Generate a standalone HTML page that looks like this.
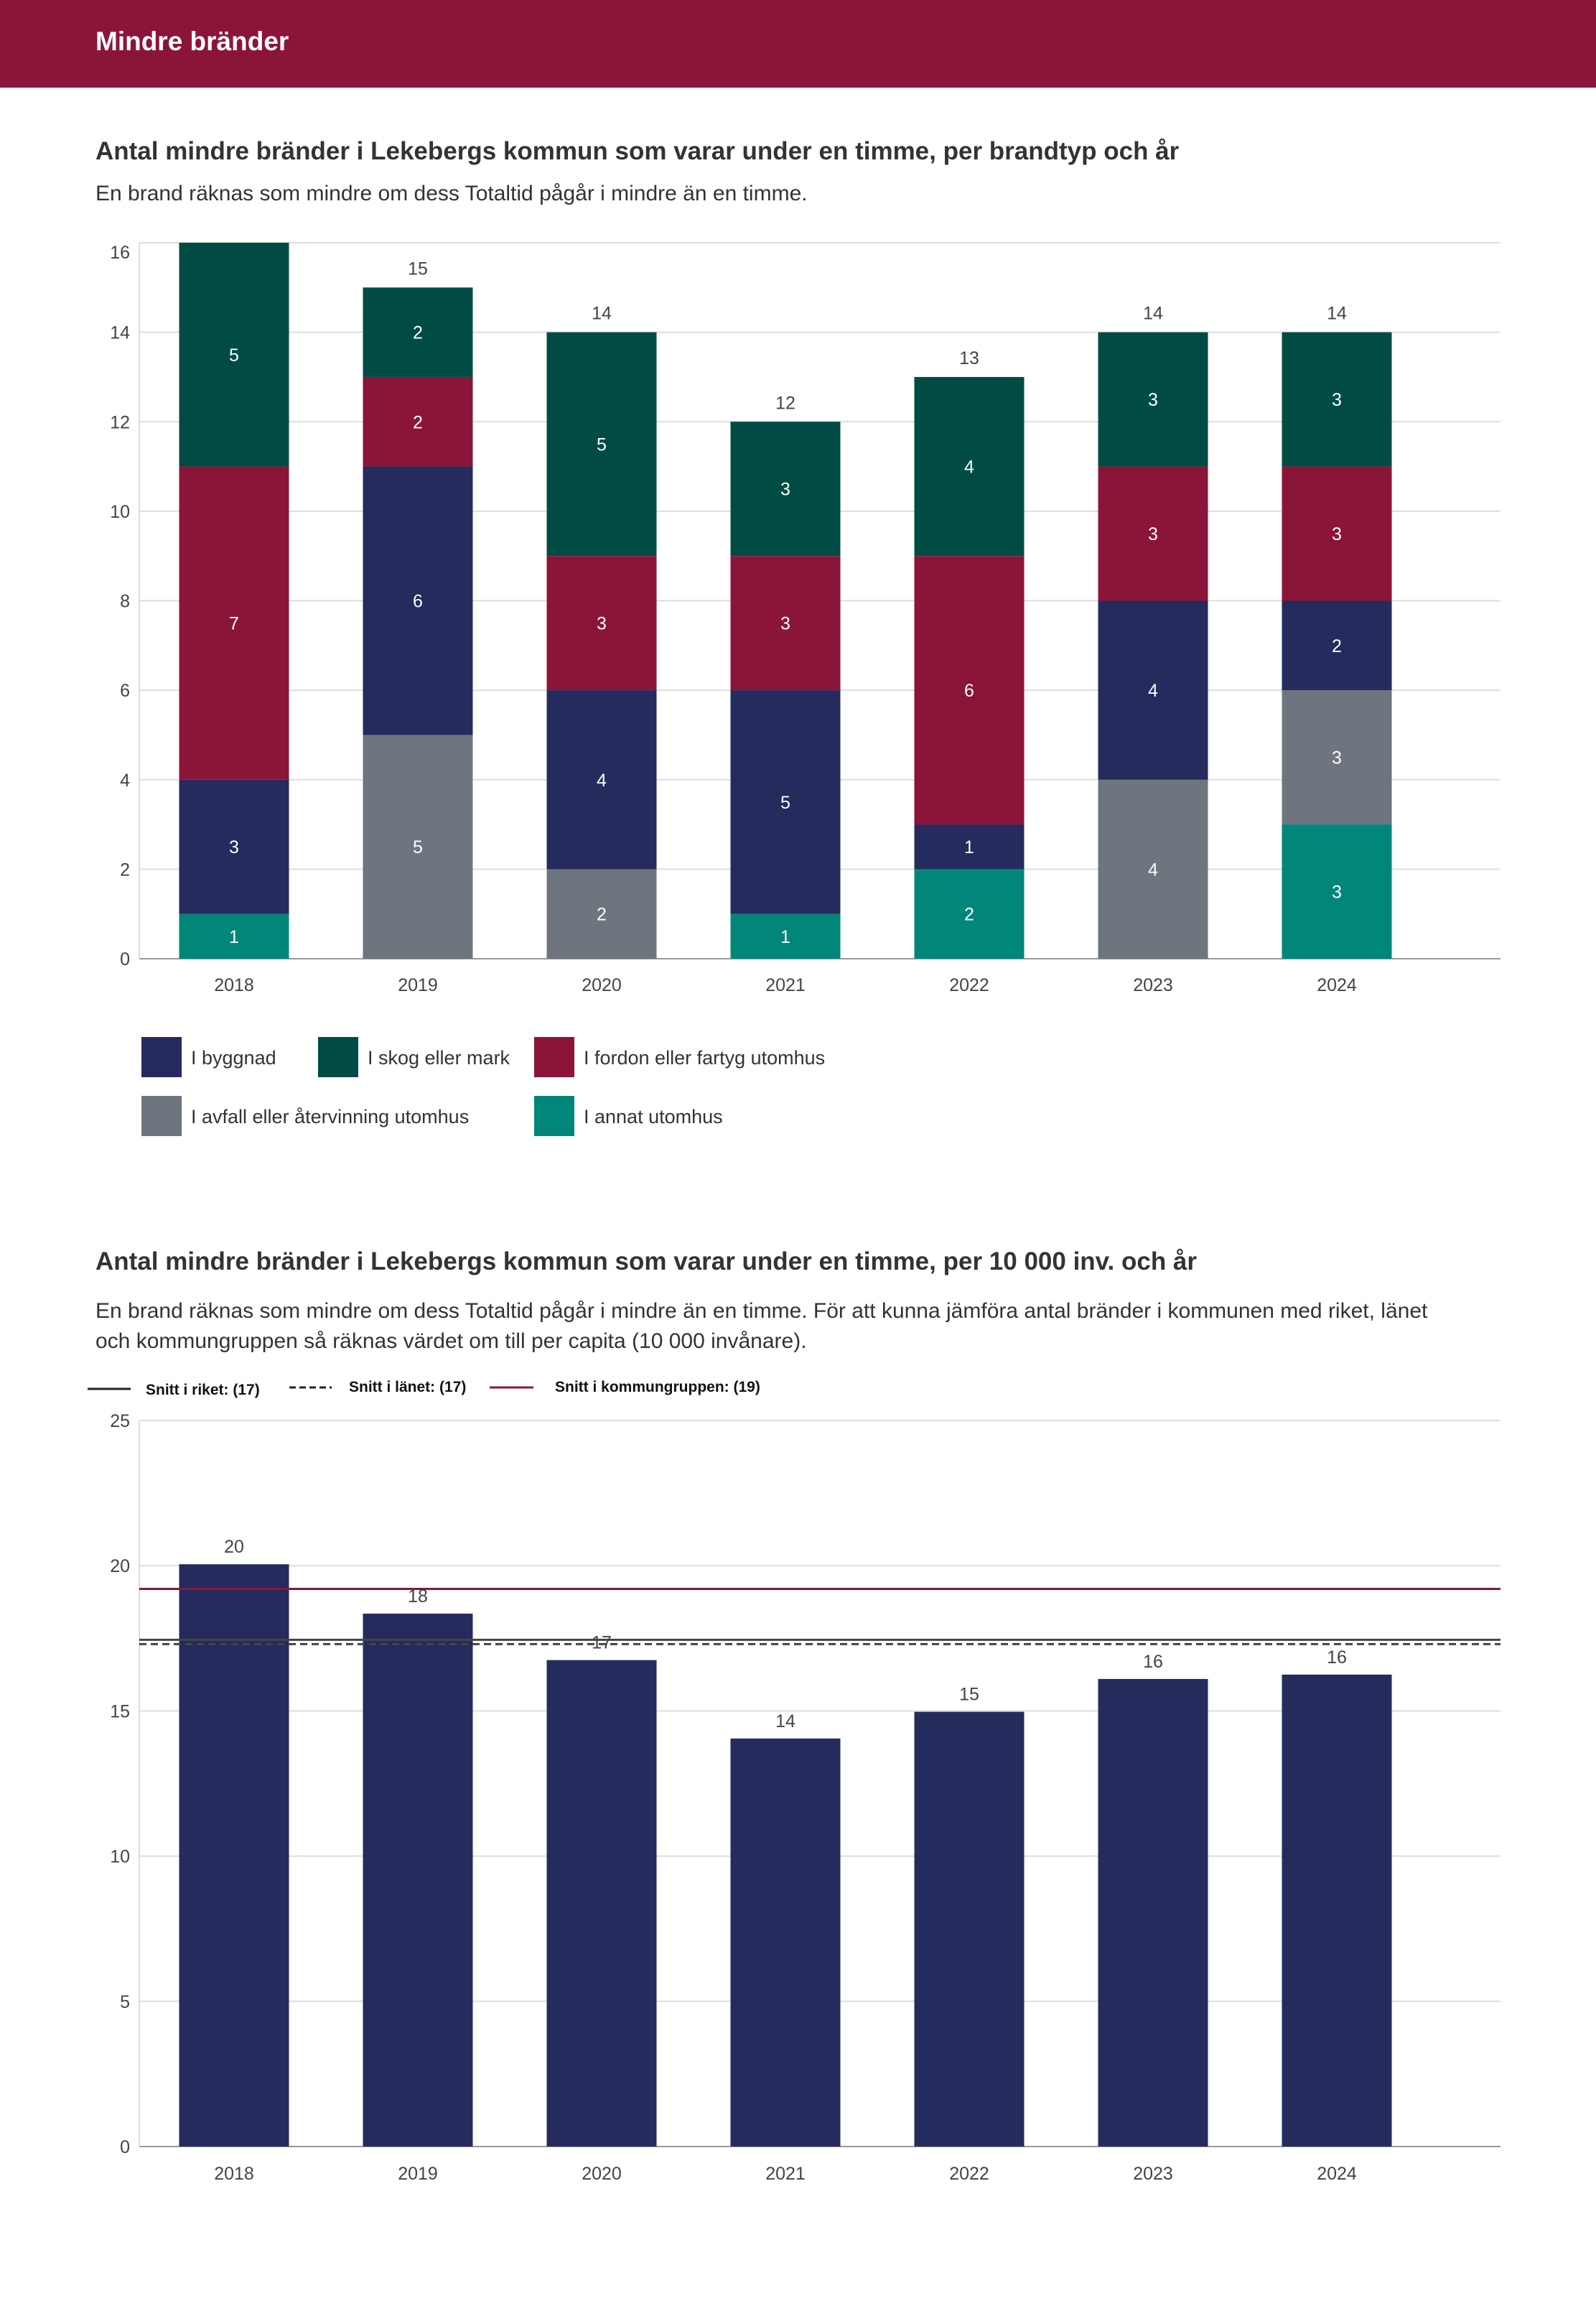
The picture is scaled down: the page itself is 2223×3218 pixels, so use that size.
<!DOCTYPE html>
<html><head><meta charset="utf-8">
<style>
html,body{margin:0;padding:0;background:#fff;}
body{width:2223px;height:3213px;overflow:hidden;font-family:"Liberation Sans",sans-serif;}
svg text{font-family:"Liberation Sans",sans-serif;}
</style></head>
<body>
<svg id="page" width="2223" height="3213" viewBox="0 0 2223 3213" xmlns="http://www.w3.org/2000/svg">
<rect x="0" y="0" width="2223" height="122" fill="#8b1538"/>
<text x="133" y="70" fill="#fff" font-size="37" font-weight="bold">Mindre bränder</text>

<text x="133" y="222" fill="#333" font-size="35" font-weight="bold">Antal mindre bränder i Lekebergs kommun som varar under en timme, per brandtyp och år</text>
<text x="133" y="279" fill="#333" font-size="30">En brand räknas som mindre om dess Totaltid pågår i mindre än en timme.</text>
<g id="c1"></g>
<g id="legend1"></g>

<text x="133" y="1768" fill="#333" font-size="35" font-weight="bold">Antal mindre bränder i Lekebergs kommun som varar under en timme, per 10 000 inv. och år</text>
<text x="133" y="1835" fill="#333" font-size="30">En brand räknas som mindre om dess Totaltid pågår i mindre än en timme. För att kunna jämföra antal bränder i kommunen med riket, länet</text>
<text x="133" y="1877" fill="#333" font-size="30">och kommungruppen så räknas värdet om till per capita (10 000 invånare).</text>
<g>
<line x1="122" y1="1934" x2="182" y2="1934" stroke="#222" stroke-width="3"/>
<text x="203" y="1942" font-size="21" font-weight="bold" fill="#111">Snitt i riket: (17)</text>
<line x1="403" y1="1932" x2="462" y2="1932" stroke="#222" stroke-width="3" stroke-dasharray="9,5"/>
<text x="486" y="1938" font-size="21" font-weight="bold" fill="#111">Snitt i länet: (17)</text>
<line x1="682" y1="1932" x2="743" y2="1932" stroke="#8b1538" stroke-width="3"/>
<text x="773" y="1938" font-size="21" font-weight="bold" fill="#111">Snitt i kommungruppen: (19)</text>
</g>
<g id="c2"></g>
</svg>
<script>
const years = ["2018","2019","2020","2021","2022","2023","2024"];
const annat = [1,0,0,1,2,0,3];
const avfall = [0,5,2,0,0,4,3];
const byggnad = [3,6,4,5,1,4,2];
const fordon = [7,2,3,3,6,3,3];
const skog = [5,2,5,3,4,3,3];
const yTicks1 = [0,2,4,6,8,10,12,14,16];
const perCapita = [20.05,18.35,16.75,14.05,14.97,16.1,16.25];
const perCapitaLabels = ["20","18","17","14","15","16","16"];
const yTicks2 = [0,5,10,15,20,25];
const snittRiket = 17.45;
const snittLanet = 17.3;
const snittKommungrupp = 19.2;

const NS="http://www.w3.org/2000/svg";
function mk(parent,tag,attrs,txt){const e=document.createElementNS(NS,tag);for(const k in attrs)e.setAttribute(k,attrs[k]);if(txt!==undefined)e.textContent=txt;parent.appendChild(e);return e;}
const L=194,R=2090,bw=153;
const xc=i=>326+256*i;

// chart 1
const c1=document.getElementById('c1');
const y1=v=>1335-v*(997/16);
yTicks1.forEach(t=>{
  const g=mk(c1,'line',{x1:L,x2:R,y1:y1(t),y2:y1(t),stroke:t===0?'#999':'#ddd','stroke-width':2});
  
  
  const tx=mk(c1,'text',{x:181,y:y1(t)+(t===16?22:9),'text-anchor':'end','font-size':25,fill:'#444'},String(t));
  
  
});
mk(c1,'line',{x1:L,x2:L,y1:338,y2:1335,stroke:'#ddd','stroke-width':2});
const series=[[annat,'#00877a','annat'],[avfall,'#6e757e','avfall'],[byggnad,'#252b5c','byggnad'],[fordon,'#8b1538','fordon'],[skog,'#004c45','skog']];
years.forEach((yr,i)=>{
  let base=0;
  series.forEach(([arr,col,nm])=>{
    const v=arr[i]; if(!v) return;
    const r=mk(c1,'rect',{x:xc(i)-bw/2,y:y1(base+v),width:bw,height:y1(base)-y1(base+v),fill:col});
    
    
    const t=mk(c1,'text',{x:xc(i),y:(y1(base)+y1(base+v))/2+9,'text-anchor':'middle','font-size':25,fill:'#fff'},String(v));
    
    
    base+=v;
  });
  if(y1(base)-20>345){
    const t=mk(c1,'text',{x:xc(i),y:y1(base)-18,'text-anchor':'middle','font-size':25,fill:'#444'},String(base));
    
    
  }
  const xl=mk(c1,'text',{x:xc(i),y:1380,'text-anchor':'middle','font-size':25,fill:'#444'},yr);
  
  
});

// legend 1
const lg=document.getElementById('legend1');
const legendItems=[['I byggnad','#252b5c',197,1444],['I skog eller mark','#004c45',443,1444],['I fordon eller fartyg utomhus','#8b1538',744,1444],['I avfall eller återvinning utomhus','#6e757e',197,1526],['I annat utomhus','#00877a',744,1526]];
legendItems.forEach(([lab,col,x,y])=>{
  const s=mk(lg,'rect',{x:x,y:y,width:56,height:56,fill:col});
  
  
  const t=mk(lg,'text',{x:x+69,y:y+38,'font-size':27,fill:'#333'},lab);
  
  
});

// chart 2
const c2=document.getElementById('c2');
const y2=v=>2989-v*(1011/25);
yTicks2.forEach(t=>{
  const g=mk(c2,'line',{x1:L,x2:R,y1:y2(t),y2:y2(t),stroke:t===0?'#999':'#ddd','stroke-width':2});
  
  
  const tx=mk(c2,'text',{x:181,y:y2(t)+9,'text-anchor':'end','font-size':25,fill:'#444'},String(t));
  
  
});
mk(c2,'line',{x1:L,x2:L,y1:1978,y2:2989,stroke:'#ddd','stroke-width':2});
years.forEach((yr,i)=>{
  const r=mk(c2,'rect',{x:xc(i)-bw/2,y:y2(perCapita[i]),width:bw,height:y2(0)-y2(perCapita[i]),fill:'#252b5c'});
  
  
  const t=mk(c2,'text',{x:xc(i),y:y2(perCapita[i])-16,'text-anchor':'middle','font-size':25,fill:'#444'},perCapitaLabels[i]);
  
  
  const xl=mk(c2,'text',{x:xc(i),y:3035,'text-anchor':'middle','font-size':25,fill:'#444'},yr);
  
  
});
const l1=mk(c2,'line',{x1:L,x2:R,y1:y2(snittKommungrupp),y2:y2(snittKommungrupp),stroke:'#8b1538','stroke-width':3});


const l2=mk(c2,'line',{x1:L,x2:R,y1:y2(snittRiket),y2:y2(snittRiket),stroke:'#444','stroke-width':3});


const l3=mk(c2,'line',{x1:L,x2:R,y1:y2(snittLanet),y2:y2(snittLanet),stroke:'#444','stroke-width':3,'stroke-dasharray':'10,6'});


</script>
</body></html>
